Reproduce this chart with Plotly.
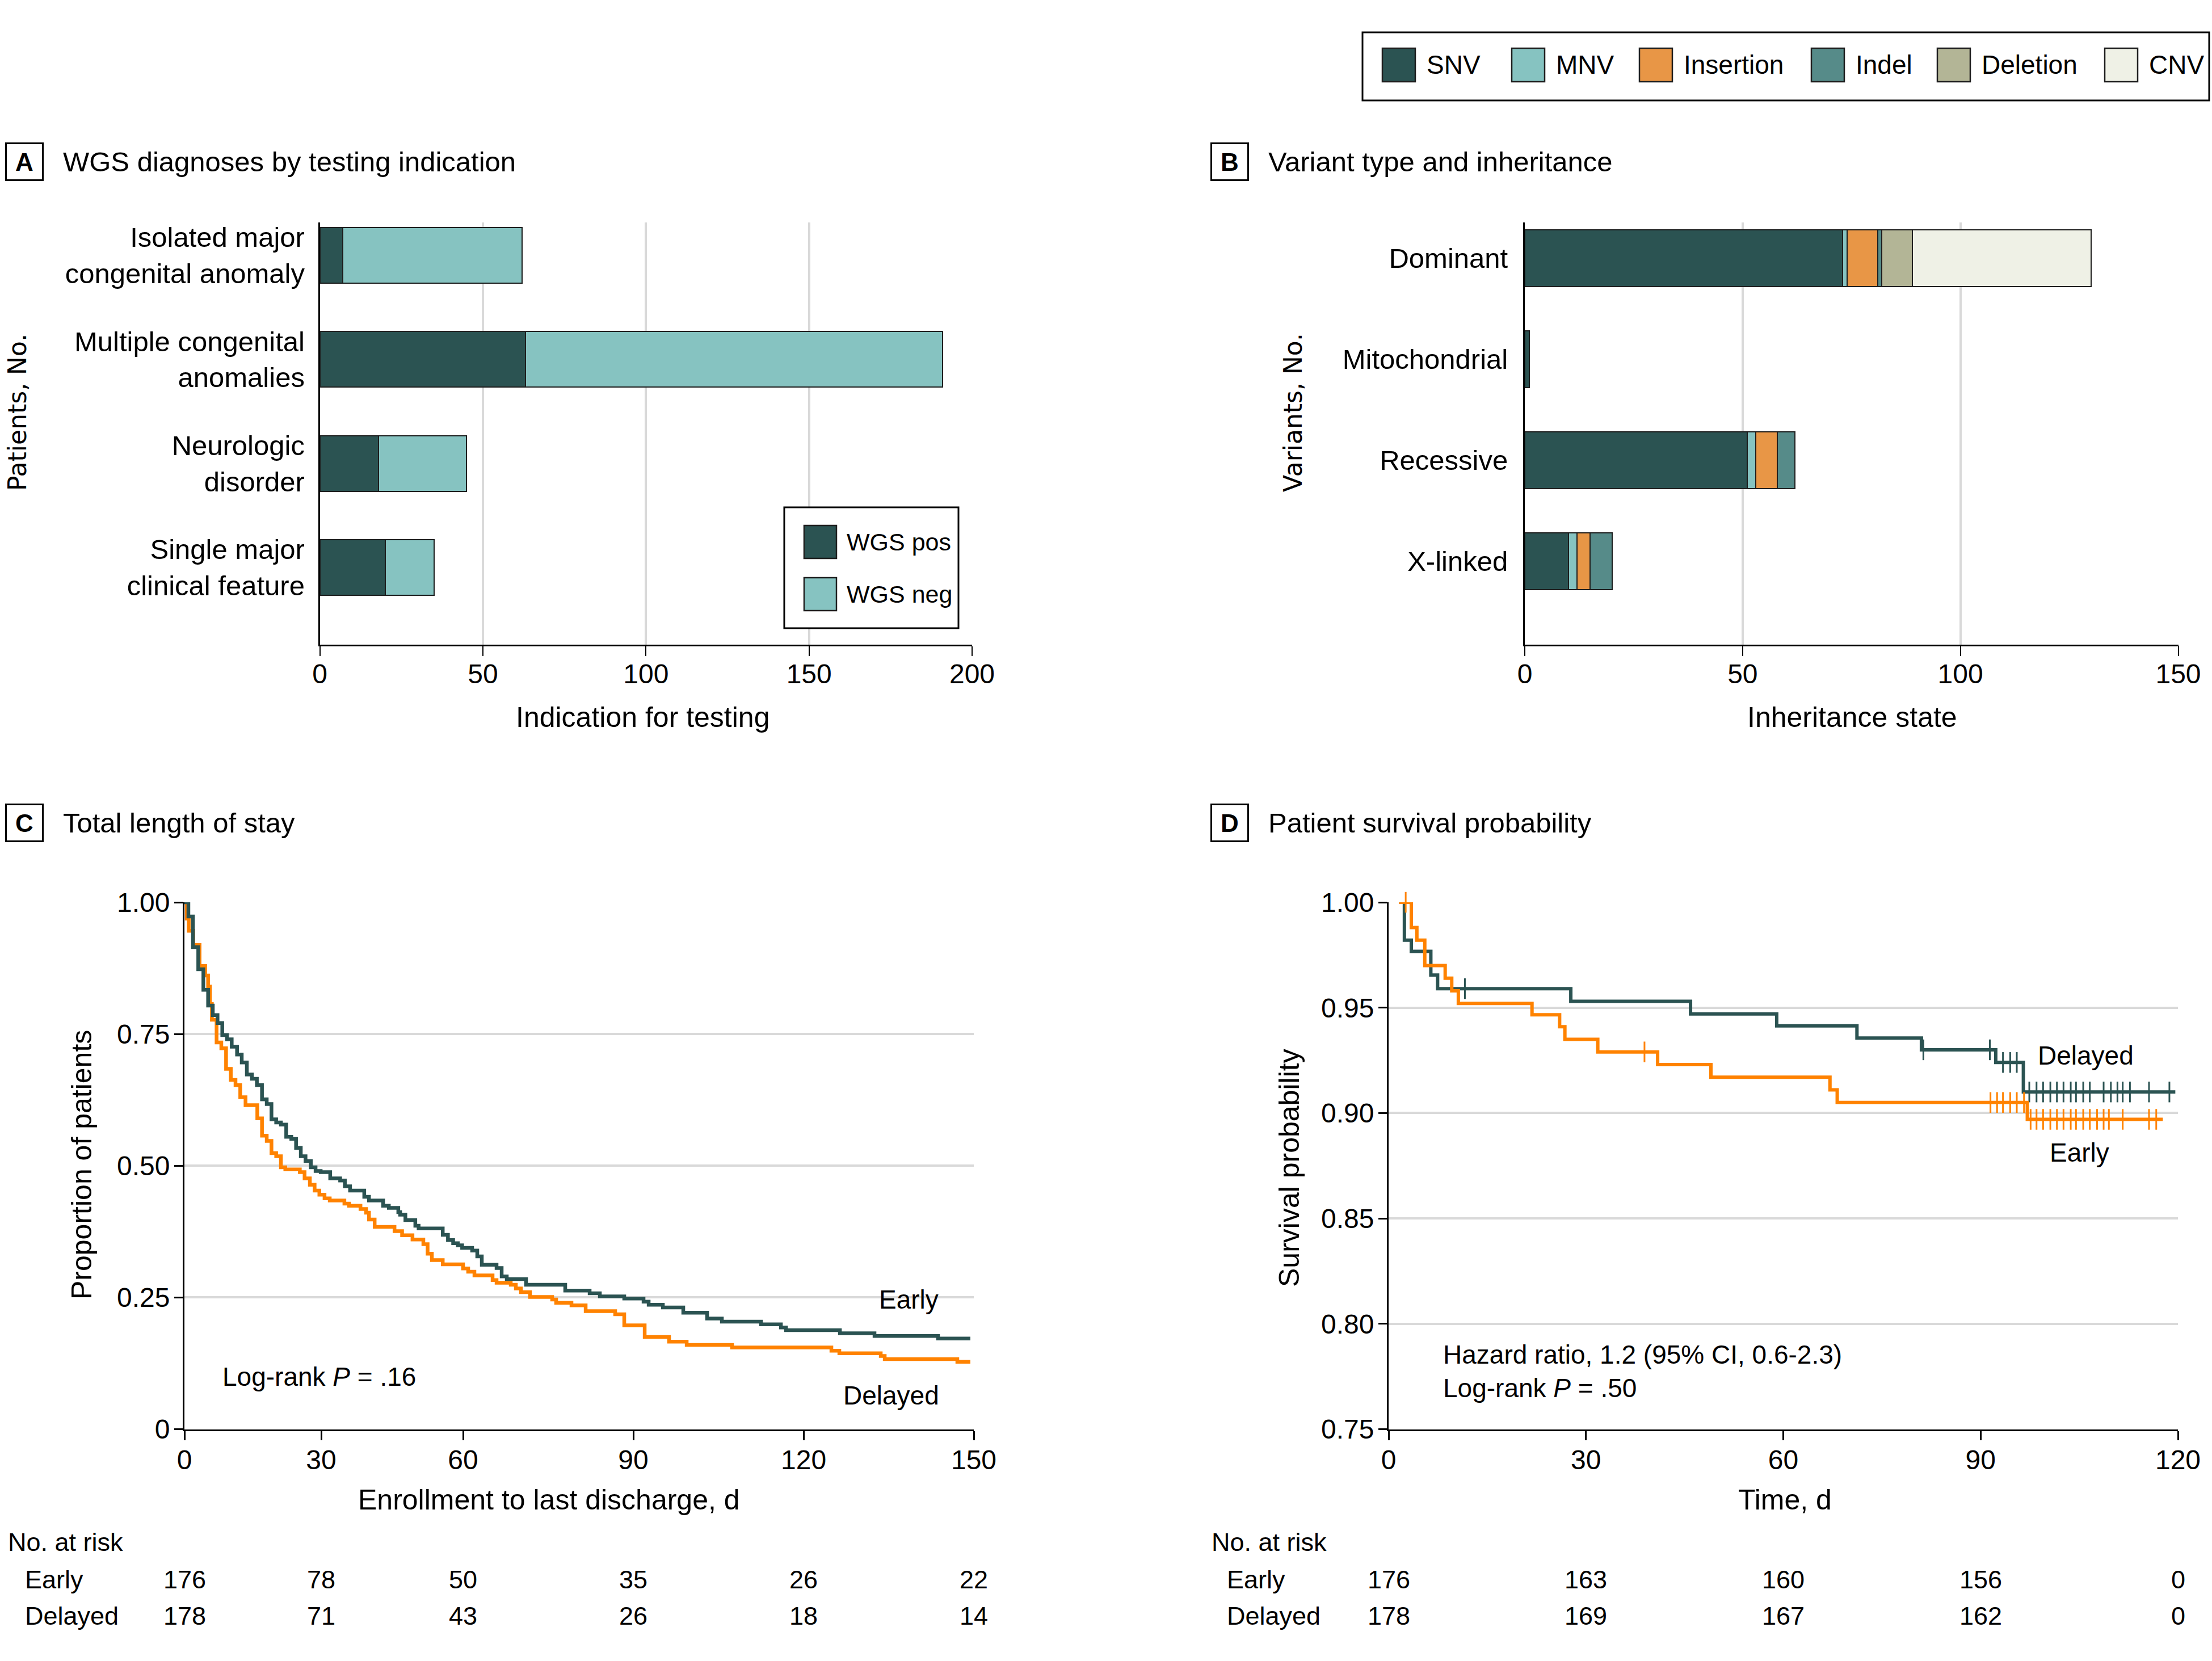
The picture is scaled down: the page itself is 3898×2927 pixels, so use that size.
import numpy as np
import plotly.graph_objects as go

W, H = 3898, 2927
FONT = "Liberation Sans, Arial, sans-serif"
DARK = "#2b5352"
ORANGE = "#ff8200"
GRID = "#d9d9d9"

# ---------------- Data ----------------
# Panel A
A_categories = ["Isolated major<br>congenital anomaly", "Multiple congenital<br>anomalies",
                "Neurologic<br>disorder", "Single major<br>clinical feature"]
A_series = ["WGS pos", "WGS neg"]
A_wgs_pos = [7, 63, 18, 20]
A_wgs_neg = [55, 128, 27, 15]
A_colors = [DARK, "#86c3c1"]

# Panel B
B_categories = ["Dominant", "Mitochondrial", "Recessive", "X-linked"]
B_types = ["SNV", "MNV", "Insertion", "Indel", "Deletion", "CNV"]
B_snv = [73, 1, 51, 10]
B_mnv = [1, 0, 2, 2]
B_insertion = [7, 0, 5, 3]
B_indel = [1, 0, 4, 5]
B_deletion = [7, 0, 0, 0]
B_cnv = [41, 0, 0, 0]
B_colors = [DARK, "#86c3c1", "#e89646", "#568b89", "#b3b596", "#eff1e6"]

# Panel C: total length of stay (Kaplan-Meier step points: day, proportion)
C_early_t = [0, 0.87, 1.87, 3.03, 4.15, 5.19, 6.22, 7.26, 8.30, 9.34, 10.37, 11.54, 12.57, 13.69,
             14.81, 15.89, 17.01, 18.05, 19.09, 20.12, 21.16, 22.32, 23.44, 24.48, 25.52, 26.56,
             27.72, 28.76, 29.88, 31.9, 34.0, 35.0, 36.1, 39.1, 40.1, 43.1, 44.3, 46.3, 46.7, 47.8,
             49.9, 50.6, 55.7, 56.8, 57.9, 58.9, 59.8, 61.6, 62.5, 63.3, 65.9, 66.8, 67.7, 71.1,
             78.0, 82.3, 84.1, 88.4, 91.8, 92.7, 95.2, 98.8, 103.0, 105.6, 112.5, 116.0, 116.9,
             126.4, 132.5, 143.7, 149.4]
C_early_s = [1.0, 0.973, 0.915, 0.873, 0.834, 0.804, 0.786, 0.771, 0.748, 0.740, 0.726, 0.711, 0.696,
             0.673, 0.665, 0.653, 0.626, 0.617, 0.588, 0.582, 0.578, 0.555, 0.551, 0.534, 0.518,
             0.509, 0.497, 0.490, 0.488, 0.476, 0.472, 0.461, 0.453, 0.441, 0.434, 0.424, 0.420,
             0.412, 0.407, 0.397, 0.386, 0.381, 0.369, 0.359, 0.353, 0.349, 0.344, 0.339, 0.328,
             0.312, 0.306, 0.290, 0.285, 0.274, 0.263, 0.258, 0.252, 0.248, 0.242, 0.236, 0.231,
             0.221, 0.210, 0.204, 0.199, 0.193, 0.188, 0.182, 0.177, 0.172, 0.172]
C_delayed_t = [0, 0.5, 0.95, 1.95, 3.32, 4.56, 5.19, 5.60, 6.02, 7.05, 8.09, 9.13, 10.17, 11.20, 12.24,
               13.40, 15.98, 17.01, 18.05, 19.09, 20.12, 21.16, 22.12, 25.31, 26.35, 27.51, 28.55,
               29.59, 30.7, 31.8, 34.9, 35.9, 38.3, 39.5, 40.1, 41.3, 45.5, 47.1, 49.3, 51.6, 52.5,
               53.4, 55.7, 60.0, 60.9, 62.0, 65.2, 65.9, 68.4, 69.3, 70.2, 71.8, 75.7, 76.4, 79.1,
               81.6, 86.8, 88.4, 92.0, 96.3, 99.4, 107.4, 124.9, 126.3, 133.6, 134.3, 147.1, 149.4]
C_delayed_s = [1.0, 0.969, 0.946, 0.919, 0.879, 0.861, 0.840, 0.807, 0.777, 0.734, 0.723, 0.684, 0.663,
               0.653, 0.630, 0.615, 0.590, 0.557, 0.547, 0.524, 0.518, 0.497, 0.493, 0.488, 0.476,
               0.464, 0.453, 0.445, 0.438, 0.434, 0.428, 0.424, 0.418, 0.411, 0.398, 0.384, 0.376,
               0.368, 0.360, 0.351, 0.333, 0.321, 0.313, 0.305, 0.299, 0.292, 0.283, 0.278, 0.274,
               0.267, 0.260, 0.251, 0.246, 0.240, 0.235, 0.224, 0.218, 0.197, 0.175, 0.166, 0.160,
               0.155, 0.149, 0.144, 0.139, 0.133, 0.128, 0.128]
C_tick_days = [0, 30, 60, 90, 120, 150]
C_risk_early = [176, 78, 50, 35, 26, 22]
C_risk_delayed = [178, 71, 43, 26, 18, 14]

# Panel D: patient survival (step points and censor times)
D_dark_t = [1.6, 2.4, 3.45, 6.42, 7.45, 27.7, 45.9, 59.0, 71.2, 81.0, 92.3, 96.5, 119.6]
D_dark_s = [1.0, 0.982, 0.9767, 0.9655, 0.959, 0.953, 0.947, 0.9414, 0.9356, 0.930, 0.924, 0.910, 0.910]
D_dark_censor = [11.6, 81.3, 91.4, 93.4, 94.5, 95.5, 97.4, 98.5, 99.5, 100.6, 101.6, 102.6, 103.7,
                 104.5, 105.6, 106.6, 108.7, 109.8, 110.8, 111.6, 112.7, 115.6, 118.7]
D_orange_t = [1.6, 3.45, 4.3, 5.5, 8.6, 9.6, 10.6, 21.8, 26.0, 26.8, 31.8, 40.9, 49.0, 67.1, 68.2,
              97.1, 117.7]
D_orange_s = [1.0, 0.988, 0.982, 0.970, 0.964, 0.958, 0.952, 0.9466, 0.941, 0.935, 0.929, 0.923,
              0.917, 0.911, 0.905, 0.897, 0.897]
D_orange_censor = [2.6, 38.9, 91.5, 92.5, 93.4, 94.5, 95.5, 96.6, 97.6, 98.5, 99.5, 100.6, 101.6,
                   102.6, 103.7, 104.5, 105.6, 106.6, 107.7, 108.7, 109.5, 111.6, 115.6, 116.7]
D_tick_days = [0, 30, 60, 90, 120]
D_risk_early = [176, 163, 160, 156, 0]
D_risk_delayed = [178, 169, 167, 162, 0]

# ------------- layout helpers -------------
# Panel C's printed time axis is not uniform: tick positions as fractions of axis length
C_TICK_FRAC = [0, 0.1733, 0.3530, 0.5687, 0.7844, 1.0]
C_TICK_POS = [f * 150 for f in C_TICK_FRAC]


def c_warp(t):
    return np.interp(np.asarray(t, dtype=float), C_tick_days, C_TICK_POS)


def step_val(ts, ss, tc):
    ts = np.asarray(ts)
    idx = np.searchsorted(ts, np.asarray(tc), side="right") - 1
    idx = np.clip(idx, 0, len(ss) - 1)
    return [ss[i] for i in idx]


def px(x):
    return x / W


def py(y):
    return 1 - y / H


fig = go.Figure()

# ---- Panel A bars ----
for name, vals, col in zip(A_series, [A_wgs_pos, A_wgs_neg], A_colors):
    fig.add_trace(go.Bar(y=A_categories, x=vals, orientation="h", name=name, width=0.535,
                         marker=dict(color=col, line=dict(color="#1e1e1e", width=2)),
                         xaxis="x", yaxis="y", showlegend=False))

# ---- Panel B bars ----
B_values = [B_snv, B_mnv, B_insertion, B_indel, B_deletion, B_cnv]
for name, vals, col in zip(B_types, B_values, B_colors):
    fig.add_trace(go.Bar(y=B_categories, x=[v if v else None for v in vals], orientation="h",
                         name=name, width=0.558,
                         marker=dict(color=col, line=dict(color="#1e1e1e", width=2)),
                         xaxis="x2", yaxis="y2", showlegend=False))

# ---- Panel C KM ----
fig.add_trace(go.Scatter(x=c_warp(C_delayed_t), y=C_delayed_s, mode="lines", line_shape="hv",
                         line=dict(color=ORANGE, width=6.5), xaxis="x3", yaxis="y3", name="Delayed"))
fig.add_trace(go.Scatter(x=c_warp(C_early_t), y=C_early_s, mode="lines", line_shape="hv",
                         line=dict(color=DARK, width=6.5), xaxis="x3", yaxis="y3", name="Early"))

# ---- Panel D KM ----
fig.add_trace(go.Scatter(x=D_dark_t, y=D_dark_s, mode="lines", line_shape="hv",
                         line=dict(color=DARK, width=6), xaxis="x4", yaxis="y4", name="Delayed"))
fig.add_trace(go.Scatter(x=D_dark_censor, y=step_val(D_dark_t, D_dark_s, D_dark_censor), mode="markers",
                         marker=dict(symbol="line-ns", size=26, line=dict(color=DARK, width=3)),
                         xaxis="x4", yaxis="y4", cliponaxis=False, name="Delayed censored"))
fig.add_trace(go.Scatter(x=D_orange_t, y=D_orange_s, mode="lines", line_shape="hv",
                         line=dict(color=ORANGE, width=6), xaxis="x4", yaxis="y4", name="Early"))
fig.add_trace(go.Scatter(x=D_orange_censor, y=step_val(D_orange_t, D_orange_s, D_orange_censor),
                         mode="markers",
                         marker=dict(symbol="line-ns", size=26, line=dict(color=ORANGE, width=3)),
                         xaxis="x4", yaxis="y4", cliponaxis=False, name="Early censored"))

# ---- Axes ----
TICKF = dict(family=FONT, size=48, color="black")
CATF = dict(family=FONT, size=49, color="black")
ax_common = dict(showline=True, linecolor="black", linewidth=3, zeroline=False, automargin=False)

AX_Y_DOM = [py(1136), py(392)]
KM_Y_DOM = [py(2518.5), py(1590)]

fig.update_layout(
    xaxis=dict(domain=[px(563.7), px(1713)], anchor="y", range=[0, 200], tickvals=[0, 50, 100, 150, 200],
               showgrid=True, gridcolor=GRID, gridwidth=4, ticks="outside", ticklen=17, tickwidth=2,
               tickcolor="black", ticklabelstandoff=-10, tickfont=TICKF, **ax_common),
    yaxis=dict(domain=AX_Y_DOM, anchor="x", type="category", categoryorder="array",
               categoryarray=A_categories, range=[3.742, -0.316], showgrid=False, ticks="",
               ticklabelstandoff=14, tickfont=CATF, **ax_common),
    xaxis2=dict(domain=[px(2687), px(3838.5)], anchor="y2", range=[0, 150], tickvals=[0, 50, 100, 150],
                showgrid=True, gridcolor=GRID, gridwidth=4, ticks="outside", ticklen=17, tickwidth=2,
                tickcolor="black", ticklabelstandoff=-10, tickfont=TICKF, **ax_common),
    yaxis2=dict(domain=AX_Y_DOM, anchor="x2", type="category", categoryorder="array",
                categoryarray=B_categories, range=[3.826, -0.354], showgrid=False, ticks="",
                ticklabelstandoff=17, tickfont=CATF, **ax_common),
    xaxis3=dict(domain=[px(325), px(1716)], anchor="y3", range=[0, 150], tickvals=C_TICK_POS,
                ticktext=[str(d) for d in C_tick_days], showgrid=False, ticks="outside", ticklen=16,
                tickwidth=3, tickcolor="black", ticklabelstandoff=-6, tickfont=TICKF, **ax_common),
    yaxis3=dict(domain=KM_Y_DOM, anchor="x3", range=[0, 1.0], tickvals=[0, 0.25, 0.5, 0.75, 1.0],
                ticktext=["0", "0.25", "0.50", "0.75", "1.00"], showgrid=True, gridcolor=GRID,
                gridwidth=4, ticks="outside", ticklen=15, tickwidth=3, tickcolor="black",
                ticklabelstandoff=-2, tickfont=TICKF, **ax_common),
    xaxis4=dict(domain=[px(2447), px(3838)], anchor="y4", range=[0, 120], tickvals=D_tick_days,
                showgrid=False, ticks="outside", ticklen=16, tickwidth=3, tickcolor="black",
                ticklabelstandoff=-6, tickfont=TICKF, **ax_common),
    yaxis4=dict(domain=KM_Y_DOM, anchor="x4", range=[0.75, 1.0],
                tickvals=[0.75, 0.80, 0.85, 0.90, 0.95, 1.0],
                ticktext=["0.75", "0.80", "0.85", "0.90", "0.95", "1.00"], showgrid=True,
                gridcolor=GRID, gridwidth=4, ticks="outside", ticklen=15, tickwidth=3,
                tickcolor="black", ticklabelstandoff=-2, tickfont=TICKF, **ax_common),
)

# ---- Annotations ----
anns = []


def ann(text, x, y, xanchor="left", size=48, family=FONT, angle=0, **kw):
    anns.append(dict(text=text, x=px(x), y=py(y), xref="paper", yref="paper", xanchor=xanchor,
                     yanchor="middle", showarrow=False, textangle=angle,
                     font=dict(family=family, size=size, color="black"), **kw))


# panel letters and titles
for letter, cx, cy, title in [("A", 43, 285, "WGS diagnoses by testing indication"),
                              ("B", 2167, 285, "Variant type and inheritance"),
                              ("C", 43, 1450, "Total length of stay"),
                              ("D", 2167, 1450, "Patient survival probability")]:
    ann(f"<b>{letter}</b>", cx, cy, xanchor="center", size=44, bordercolor="black", borderwidth=3,
        borderpad=2, width=58, height=58, align="center")
    ann(title, cx + 66, cy, size=49)

# axis titles
ann("Indication for testing", 1133, 1264, xanchor="center", size=50)
ann("Inheritance state", 3264, 1264, xanchor="center", size=50)
ann("Patients, No.", 30, 727, xanchor="center", size=44, family="DejaVu Sans", angle=-90)
ann("Variants, No.", 2278, 727, xanchor="center", size=44, family="DejaVu Sans", angle=-90)
ann("Proportion of patients", 144, 2053, xanchor="center", size=50, angle=-90)
ann("Enrollment to last discharge, d", 967, 2643, xanchor="center", size=50)
ann("Survival probability", 2272, 2058, xanchor="center", size=50, angle=-90)
ann("Time, d", 3145, 2643, xanchor="center", size=50)

# KM labels
ann("Early", 1601, 2290, xanchor="center", size=46)
ann("Delayed", 1570, 2459, xanchor="center", size=46)
ann("Log-rank <i>P</i> = .16", 390, 2426, size=46)
ann("Delayed", 3675, 1860, xanchor="center", size=46)
ann("Early", 3664, 2031, xanchor="center", size=46)
ann("Hazard ratio, 1.2 (95% CI, 0.6-2.3)", 2541, 2387, size=46)
ann("Log-rank <i>P</i> = .50", 2541, 2446, size=46)

# at-risk tables
for x0, lx in [(12, 42), (2133, 2160)]:
    ann("No. at risk", x0, 2717, size=45)
    ann("Early", lx, 2783, size=45)
    ann("Delayed", lx, 2847, size=45)
for xr, xs, early, delayed in [("x3", C_TICK_POS, C_risk_early, C_risk_delayed),
                               ("x4", D_tick_days, D_risk_early, D_risk_delayed)]:
    for xv, e, d in zip(xs, early, delayed):
        for val, yy in [(e, 2783), (d, 2847)]:
            anns.append(dict(text=str(val), x=xv, y=py(yy), xref=xr, yref="paper", xanchor="center",
                             yanchor="middle", showarrow=False,
                             font=dict(family=FONT, size=45, color="black")))

# legends (manual boxes)
shapes = []
shapes.append(dict(type="rect", xref="paper", yref="paper", x0=px(2401), x1=px(3893), y0=py(177),
                   y1=py(57), line=dict(color="black", width=3), fillcolor="white"))
B_sw_x = [2436, 2664, 2889, 3192, 3414, 3709]
for name, col, sx in zip(B_types, B_colors, B_sw_x):
    shapes.append(dict(type="rect", xref="paper", yref="paper", x0=px(sx), x1=px(sx + 58),
                       y0=py(144), y1=py(85), fillcolor=col, line=dict(color="#1e1e1e", width=2.5)))
    ann(name, sx + 76, 114, size=46)

shapes.append(dict(type="rect", xref="paper", yref="paper", x0=px(1382), x1=px(1689), y0=py(1107),
                   y1=py(894), line=dict(color="black", width=3), fillcolor="white"))
for name, col, sy in zip(A_series, A_colors, [926, 1018]):
    shapes.append(dict(type="rect", xref="paper", yref="paper", x0=px(1417), x1=px(1474),
                       y0=py(sy + 58), y1=py(sy), fillcolor=col, line=dict(color="#1e1e1e", width=2.5)))
    ann(name, 1490, sy + 29, size=43)

fig.update_layout(width=W, height=H,
                  margin=dict(l=0, r=0, t=0, b=0, pad=0, autoexpand=False),
                  paper_bgcolor="white", plot_bgcolor="white", showlegend=False, barmode="stack",
                  annotations=anns, shapes=shapes, font=dict(family=FONT, color="black"))

fig.write_html("out.html", config={"displayModeBar": False},
               post_script="document.body.style.margin='0px';")
